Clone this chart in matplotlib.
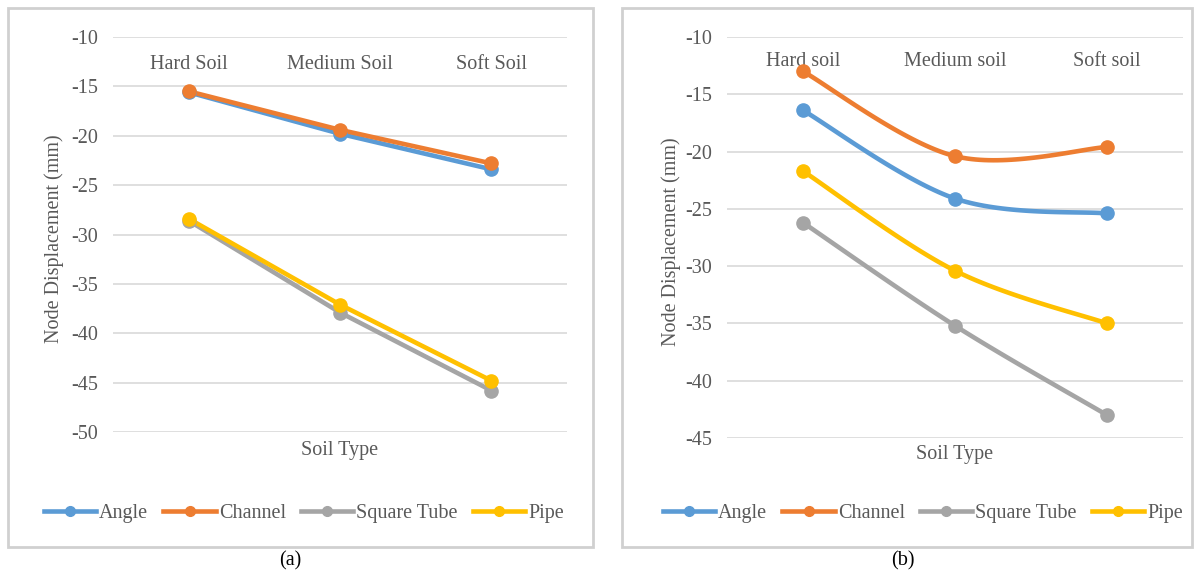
import matplotlib
matplotlib.use("Agg")
import matplotlib.pyplot as plt
import numpy as np
from matplotlib.patches import Rectangle
from matplotlib.lines import Line2D

# ---------------- data ----------------
series_names = ["Angle", "Channel", "Square Tube", "Pipe"]
series_colors = ["#5B9BD5", "#ED7D31", "#A5A5A5", "#FFC000"]

cats_a = ["Hard Soil", "Medium Soil", "Soft Soil"]
angle_a = [-15.6, -19.8, -23.4]
channel_a = [-15.5, -19.4, -22.8]
square_a = [-28.6, -37.9, -45.8]
pipe_a = [-28.4, -37.1, -44.8]

cats_b = ["Hard soil", "Medium soil", "Soft soil"]
angle_b = [-16.4, -24.1, -25.4]
channel_b = [-13.0, -20.4, -19.6]
square_b = [-26.2, -35.2, -43.0]
pipe_b = [-21.7, -30.4, -35.0]

yticks_a = [-10, -15, -20, -25, -30, -35, -40, -45, -50]
yticks_b = [-10, -15, -20, -25, -30, -35, -40, -45]

# ---------------- style ----------------
FONT = "Liberation Serif"
TXT = "#595959"
GRID = "#D9D9D9"
FS = 14.5
plt.rcParams["font.family"] = [FONT, "DejaVu Serif"]

W, H = 1197, 572
fig = plt.figure(figsize=(W / 100, H / 100), dpi=100)


def px_axes(x0, x1, ytop, ybot):
    return fig.add_axes([x0 / W, 1 - ybot / H, (x1 - x0) / W, (ybot - ytop) / H])


def smooth(xs, ys, n=40):
    # Excel-like smoothed line (Catmull-Rom Bezier), passes through every data point
    P = np.column_stack([xs, ys]).astype(float)
    out = []
    m = len(P)
    for i in range(m - 1):
        p0 = P[i - 1] if i > 0 else P[i]
        p1, p2 = P[i], P[i + 1]
        p3 = P[i + 2] if i + 2 < m else P[i + 1]
        c1 = p1 + (p2 - p0) / 6
        c2 = p2 - (p3 - p1) / 6
        t = np.linspace(0, 1, n)[:, None]
        seg = ((1 - t) ** 3) * p1 + 3 * ((1 - t) ** 2) * t * c1 + 3 * (1 - t) * t ** 2 * c2 + t ** 3 * p2
        out.append(seg if i == 0 else seg[1:])
    arr = np.vstack(out)
    return arr[:, 0], arr[:, 1]


def draw_panel(ax, cats, data, yticks, smooth_lines, xlab_y, ylab_x, cat_pad):
    ax.set_xlim(-0.5, len(cats) - 0.5)
    ax.set_ylim(min(yticks), max(yticks))
    for s in ax.spines.values():
        s.set_visible(False)
    ax.set_yticks(yticks)
    ax.set_yticklabels([f"{v}" for v in yticks])
    ax.tick_params(axis="y", length=0, pad=11, labelsize=FS, labelcolor=TXT)
    ax.yaxis.grid(True, color=GRID, linewidth=1.2)
    ax.set_axisbelow(True)
    ax.set_xticks(range(len(cats)))
    ax.set_xticklabels(cats)
    ax.tick_params(axis="x", length=0, top=False, bottom=False, labeltop=True,
                   labelbottom=False, pad=cat_pad, labelsize=FS, labelcolor=TXT)
    x = np.arange(len(cats))
    for vals, c in zip(data, series_colors):
        if smooth_lines:
            sx, sy = smooth(x, vals)
            ax.plot(sx, sy, color=c, lw=3.3, solid_capstyle="round", zorder=3)
        else:
            ax.plot(x, vals, color=c, lw=3.3, solid_capstyle="round", zorder=3)
        ax.plot(x, vals, linestyle="none", marker="o", ms=9.5, color=c, zorder=4)
    ax.text(0.5, xlab_y, "Soil Type", transform=ax.transAxes, ha="center", va="center",
            fontsize=FS, color=TXT)
    ax.text(ylab_x, 0.49, "Node Displacement (mm)", transform=ax.transAxes, rotation=90,
            ha="center", va="center", fontsize=FS, color=TXT)


# panel borders
for x0, x1 in [(8, 593), (622, 1192)]:
    fig.patches.append(Rectangle((x0 / W, 1 - 547 / H), (x1 - x0) / W, (547 - 8) / H,
                                 transform=fig.transFigure, fill=False,
                                 edgecolor="#D0D0D0", linewidth=2))

ax1 = px_axes(113, 567, 37, 432)
draw_panel(ax1, cats_a, [angle_a, channel_a, square_a, pipe_a], yticks_a, False,
           -0.048, -0.130, -26.5)

ax2 = px_axes(727, 1183, 37, 438)
draw_panel(ax2, cats_b, [angle_b, channel_b, square_b, pipe_b], yticks_b, True,
           -0.040, -0.122, -24.3)

# legends
handles = [Line2D([0], [0], color=c, lw=3.3, marker="o", ms=7) for c in series_colors]
for cx in (304 / W, 923 / W):
    fig.legend(handles, series_names, loc="center", bbox_to_anchor=(cx, 1 - 513 / H),
               ncol=4, frameon=False, fontsize=FS, labelcolor=TXT, handlelength=2.6,
               handletextpad=0.15, columnspacing=0.75, borderaxespad=0, borderpad=0)

fig.text(290 / W, 1 - 561 / H, "(a)", ha="center", va="center", fontsize=FS, color="black")
fig.text(903 / W, 1 - 561 / H, "(b)", ha="center", va="center", fontsize=FS, color="black")

fig.savefig("out.png", dpi=100, facecolor="white")
